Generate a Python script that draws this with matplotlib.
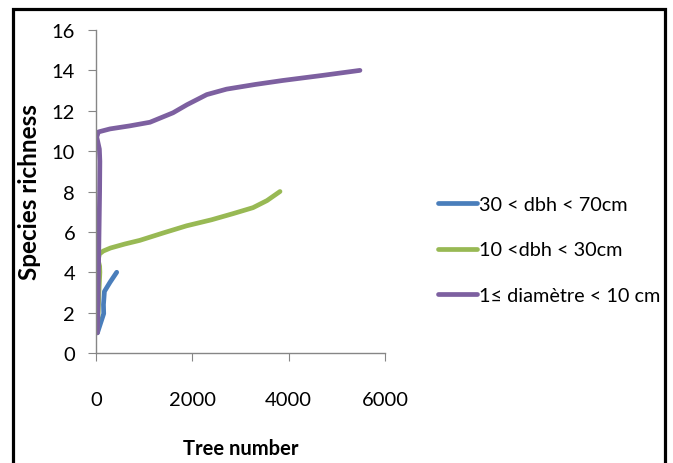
import matplotlib
matplotlib.use("Agg")
import matplotlib.pyplot as plt
from matplotlib.patches import Rectangle

plt.rcParams['font.family'] = ['Lato', 'DejaVu Sans']

# values
blue_x = [30, 160, 155, 175, 290, 430]
blue_y = [1, 1.95, 2.4, 3.05, 3.5, 4.0]

green_x = [20, 45, 60, 80, 75, 45, 70, 150, 300, 600, 910, 1400, 1880, 2400, 2840, 3260, 3550, 3820]
green_y = [1, 2, 3, 4, 4.3, 4.6, 4.9, 5.05, 5.2, 5.4, 5.58, 5.95, 6.3, 6.6, 6.9, 7.2, 7.55, 8.0]

purple_x = [30, 45, 60, 75, 80, 70, 15, 50, 290, 700, 1120, 1600, 1890, 2300, 2710, 3300, 3880, 4700, 5480]
purple_y = [1, 3, 5.5, 8, 9.5, 10.1, 10.7, 10.95, 11.1, 11.25, 11.43, 11.9, 12.3, 12.8, 13.07, 13.3, 13.5, 13.75, 14.0]

labels = ['30 < dbh < 70cm', '10 <dbh < 30cm', '1\u2264 diamètre < 10 cm']
colours = ['#4A7EBB', '#98B954', '#7D60A0']

x_ticks = [0, 2000, 4000, 6000]
y_ticks = [0, 2, 4, 6, 8, 10, 12, 14, 16]

fig = plt.figure(figsize=(6.73, 4.64), dpi=100)
ax = fig.add_axes([96/673, 1 - 354/464, (385 - 96)/673, (354 - 31)/464])

for xs, ys, c, lab in zip([blue_x, green_x, purple_x], [blue_y, green_y, purple_y], colours, labels):
    ax.plot(xs, ys, color=c, lw=3.4, label=lab, solid_capstyle='round', solid_joinstyle='round')

ax.set_xlim(0, 6000)
ax.set_ylim(0, 16)
ax.set_xticks(x_ticks)
ax.set_yticks(y_ticks)
ax.spines['top'].set_visible(False)
ax.spines['right'].set_visible(False)
for s in ['left', 'bottom']:
    ax.spines[s].set_color('#868686')
    ax.spines[s].set_linewidth(1)
ax.tick_params(axis='x', direction='out', length=6, color='#868686', labelsize=14.5, pad=21)
ax.tick_params(axis='y', direction='out', length=6, color='#868686', labelsize=14.5, pad=9)

ax.set_xlabel('Tree number', fontsize=14.5, fontweight='bold', labelpad=22)
ax.set_ylabel('Species richness', fontsize=17.5, fontweight='bold', labelpad=8)

fig.legend(loc='center left', bbox_to_anchor=(438/673, 1 - 251/464), frameon=False,
           fontsize=14.3, handlelength=1.95, handletextpad=0.1, labelspacing=1.45,
           borderpad=0, borderaxespad=0)

fig.patches.append(Rectangle((13/673, -0.1), (665 - 13)/673, 1.1 - 10/464,
                             transform=fig.transFigure, fill=False, lw=2.3, ec='black'))

fig.savefig('out.png', dpi=100)
